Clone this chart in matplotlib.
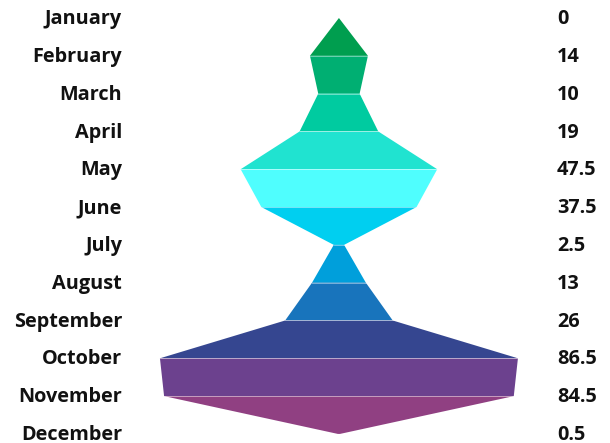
import matplotlib
matplotlib.use('Agg')
import matplotlib.pyplot as plt
import matplotlib.transforms as mtransforms

months = ['January', 'February', 'March', 'April', 'May', 'June', 'July',
          'August', 'September', 'October', 'November', 'December']
values = [0, 14, 10, 19, 47.5, 37.5, 2.5, 13, 26, 86.5, 84.5, 0.5]
value_labels = ['0', '14', '10', '19', '47.5', '37.5', '2.5', '13', '26', '86.5', '84.5', '0.5']
seg_colors = ['#009e4f', '#00af72', '#00cba0', '#20e3d0', '#4ffefe', '#00cff0',
              '#009fdb', '#1874bc', '#354690', '#6c418e', '#904082']

plt.rcParams['font.family'] = ['Open Sans', 'DejaVu Sans']

fig = plt.figure(figsize=(6.1, 4.43), dpi=100)
ax = fig.add_axes([0, 0, 1, 1])

# each segment goes from one month's width to the next one
for i in range(len(values) - 1):
    h0 = values[i] / 2
    h1 = values[i + 1] / 2
    xs = [-h0, h0, h1, -h1]
    ys = [i, i, i + 1, i + 1]
    ax.fill(xs, ys, color=seg_colors[i], edgecolor='none', zorder=2)
    if i > 0:
        ax.plot([-h0, h0], [i, i], color='white', lw=0.6, alpha=0.5, zorder=3)

trans = mtransforms.blended_transform_factory(ax.transAxes, ax.transData)
for i, (m, v) in enumerate(zip(months, value_labels)):
    ax.text(0.2, i + 0.03, m, transform=trans, ha='right', va='center',
            fontsize=14.3, fontweight='bold', color='#111111')
    ax.text(0.913, i + 0.03, v, transform=trans, ha='left', va='center',
            fontsize=14.3, fontweight='bold', color='#111111')

ax.set_xlim(-81.9, 65.5)
ax.set_ylim(11.24, -0.476)
ax.axis('off')

fig.savefig('out.png', dpi=100)
